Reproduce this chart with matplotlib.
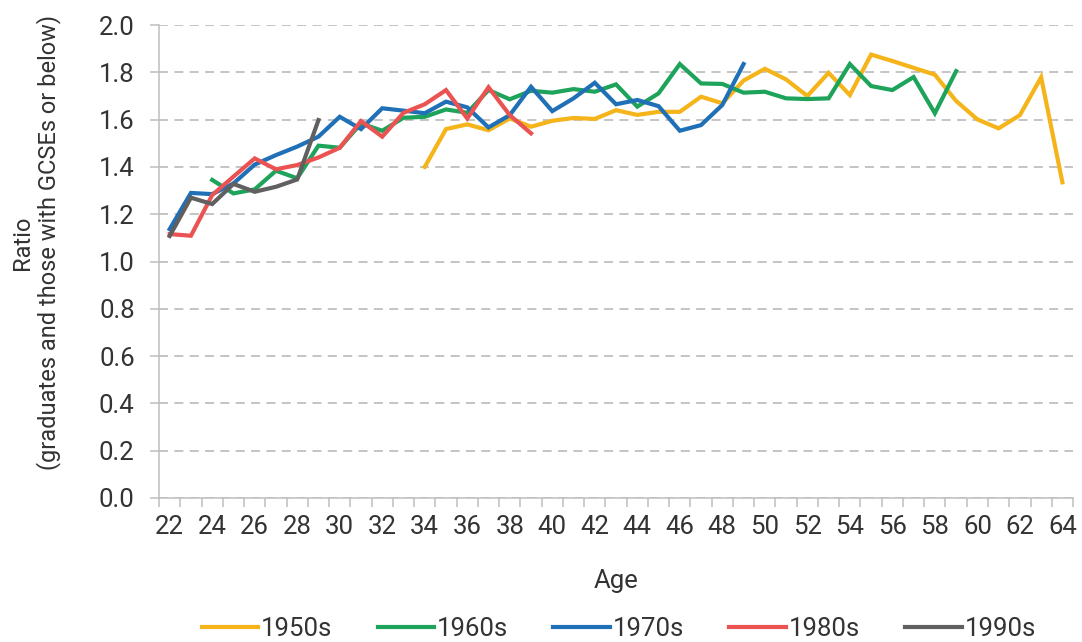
import numpy as np
import matplotlib
matplotlib.use("Agg")
import matplotlib.pyplot as plt

plt.rcParams['font.family'] = ['Roboto', 'DejaVu Sans']

# cohort series: start age + ratio values
ages_1950s = list(range(34, 65))
ratio_1950s = [1.40, 1.56, 1.58, 1.555, 1.605, 1.57, 1.595, 1.607, 1.603, 1.64,
               1.62, 1.633, 1.633, 1.697, 1.669, 1.765, 1.815, 1.77, 1.70, 1.798,
               1.704, 1.875, 1.848, 1.819, 1.79, 1.679, 1.601, 1.563, 1.619, 1.779,
               1.335]

ages_1960s = list(range(24, 60))
ratio_1960s = [1.345, 1.288, 1.305, 1.384, 1.352, 1.49, 1.481, 1.584, 1.553, 1.608,
               1.612, 1.643, 1.629, 1.725, 1.686, 1.722, 1.714, 1.729, 1.718, 1.749,
               1.655, 1.711, 1.835, 1.753, 1.751, 1.714, 1.718, 1.69, 1.687, 1.69,
               1.835, 1.742, 1.725, 1.78, 1.627, 1.805]

ages_1970s = list(range(22, 50))
ratio_1970s = [1.137, 1.29, 1.285, 1.33, 1.41, 1.45, 1.486, 1.528, 1.612, 1.56,
               1.648, 1.638, 1.627, 1.676, 1.652, 1.567, 1.619, 1.739, 1.636, 1.69,
               1.756, 1.665, 1.683, 1.657, 1.553, 1.577, 1.662, 1.835]

ages_1980s = list(range(22, 40))
ratio_1980s = [1.116, 1.109, 1.281, 1.359, 1.436, 1.39, 1.408, 1.44, 1.481, 1.594,
               1.528, 1.629, 1.665, 1.725, 1.605, 1.737, 1.619, 1.542]

ages_1990s = list(range(22, 30))
ratio_1990s = [1.108, 1.27, 1.243, 1.328, 1.295, 1.316, 1.347, 1.598]

series = [
    ("1950s", ages_1950s, ratio_1950s, "#F4B41A"),
    ("1960s", ages_1960s, ratio_1960s, "#1EA35B"),
    ("1970s", ages_1970s, ratio_1970s, "#1F70B6"),
    ("1980s", ages_1980s, ratio_1980s, "#EA5352"),
    ("1990s", ages_1990s, ratio_1990s, "#606060"),
]

text_col = "#333333"
axis_col = "#BFBFBF"

fig = plt.figure(figsize=(10.82, 6.42), dpi=100)
ax = fig.add_axes([0.147, 0.2243, 0.8447, 0.7367])

for name, x, y, c in series:
    ax.plot(x, y, color=c, lw=3, label=name, solid_joinstyle='miter')

ax.set_xlim(21.5, 64.5)
ax.set_ylim(0, 2.0)
ax.set_yticks(np.arange(0, 2.01, 0.2))
ax.set_yticklabels([f"{v:.1f}" for v in np.arange(0, 2.01, 0.2)])

# category-style axis: ticks at boundaries, labels centred
ax.set_xticks(np.arange(21.5, 65, 1))
ax.set_xticklabels([])
ax.set_xticks(np.arange(22, 65, 2), minor=True)
ax.set_xticklabels([str(a) for a in range(22, 65, 2)], minor=True)
ax.tick_params(axis='x', which='major', length=6.5, width=1.1, color=axis_col)
ax.tick_params(axis='x', which='minor', length=0, pad=12, labelsize=18.5, labelcolor=text_col)
ax.tick_params(axis='y', length=6.5, width=1.1, color=axis_col, pad=11,
               labelsize=18.5, labelcolor=text_col)

ax.grid(axis='y', color=axis_col, lw=1.3, linestyle=(0, (5, 3.5)))
ax.set_axisbelow(True)
for s in ['top', 'right']:
    ax.spines[s].set_visible(False)
for s in ['left', 'bottom']:
    ax.spines[s].set_color(axis_col)
    ax.spines[s].set_linewidth(1.1)

ax.set_xlabel("Age", fontsize=18.5, color=text_col, labelpad=22)
ax.set_ylabel("Ratio\n(graduates and those with GCSEs or below)", fontsize=17,
              color=text_col, linespacing=1.1)
ax.yaxis.set_label_coords(-0.107, 0.54)

fig.legend(loc='center', bbox_to_anchor=(0.572, 0.02), ncol=5, frameon=False,
           fontsize=18.5, handlelength=2.2, handletextpad=0.12, columnspacing=1.75,
           labelcolor=text_col)

fig.savefig("out.png", dpi=100)
